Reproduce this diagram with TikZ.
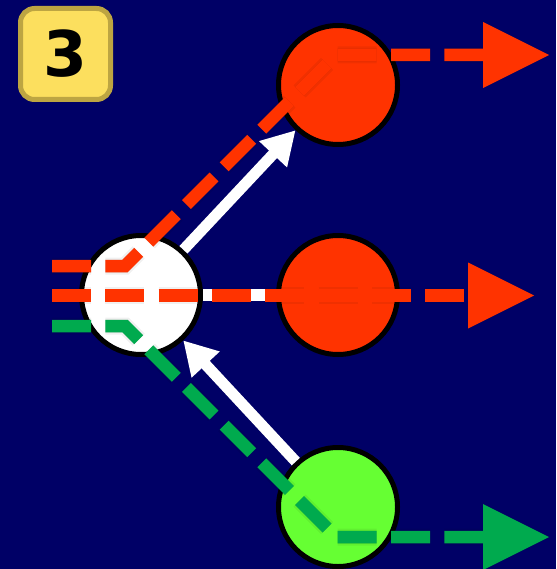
\documentclass[tikz,border=0pt]{standalone}
\usepackage{fontspec}
\newfontfamily\badgefont{DejaVu Sans}
\usetikzlibrary{arrows.meta}
\definecolor{bg}{HTML}{000066}
\definecolor{orangec}{HTML}{FF3300}
\definecolor{greenball}{HTML}{66FF33}
\definecolor{greendash}{HTML}{00AA4E}
\definecolor{badgefill}{HTML}{FCDF5E}
\definecolor{badgeedge}{HTML}{BDA542}
\tikzset{
  ball/.style={circle, draw=black, line width=5pt, minimum size=119pt, inner sep=0pt},
  badge/.style={draw=badgeedge, fill=badgefill, line width=5pt, rounded corners=14pt,
    minimum width=90pt, minimum height=91pt, inner sep=0pt,
    font=\badgefont\bfseries\fontsize{63}{63}\selectfont},
  whitearrow/.style={draw=white, line width=11pt, -{Triangle[length=33pt,width=36pt]}},
  whiteline/.style={draw=white, line width=12pt},
  dashline/.style={line width=12.5pt, dash pattern=on 39pt off 14.3pt, line join=miter},
  shadowA/.style={draw=black, opacity=0.10, line width=13pt, dash pattern=on 39pt off 14.3pt, shift={(2pt,-4pt)}},
  shadowB/.style={draw=black, opacity=0.06, line width=17pt, dash pattern=on 39pt off 14.3pt, shift={(2pt,-5pt)}},
  tshadow/.style={fill=black, opacity=0.15, shift={(2pt,-4pt)}},
}
\begin{document}
\begin{tikzpicture}[x=1pt,y=-1pt]
\fill[bg] (0,0) rectangle (556,569);
\useasboundingbox (0,0) rectangle (556,569);

% badge
\node[badge] (badge) at (65.5,54) {3};

% coordinates
\coordinate (ta) at (52,266);
\coordinate (tb) at (125,266);
\coordinate (tc) at (336,55);
\coordinate (td) at (483,55);
\coordinate (ma) at (52,295.5);
\coordinate (md) at (468,295.5);
\coordinate (ga) at (52,326);
\coordinate (gb) at (125,326);
\coordinate (gc) at (336,537);
\coordinate (gd) at (483,537);

% node positions
\path (141,295) coordinate (wc) (338,85) coordinate (tcen) (338,295) coordinate (mcen) (338,507) coordinate (gcen);

% circles
\node[ball, fill=white] (w) at (wc) {};
\node[ball, fill=orangec] (top) at (tcen) {};
\node[ball, fill=orangec] (mid) at (mcen) {};
\node[ball, fill=greenball] (grn) at (gcen) {};

% white connectors
\draw[whiteline] (w.east) -- (mid.west);
\draw[whitearrow] (w) -- (top);
\draw[whitearrow] (grn) -- (w);

% shadows
\foreach \s in {shadowB,shadowA}{
  \draw[\s] (ta) -- (tb) -- (tc) -- (td);
  \draw[\s] (ma) -- (md);
  \draw[\s] (ga) -- (gb) -- (gc) -- (gd);
}
\fill[tshadow] (td) -- ++(0,-33) -- ++(66,33) -- ++(-66,33) -- cycle;
\fill[tshadow] (md) -- ++(0,-33) -- ++(66,33) -- ++(-66,33) -- cycle;
\fill[tshadow] (gd) -- ++(0,-33) -- ++(66,33) -- ++(-66,33) -- cycle;

% dashed lines
\draw[dashline, draw=orangec] (ta) -- (tb) -- (tc) -- (td);
\draw[dashline, draw=orangec] (ma) -- (md);
\draw[dashline, draw=greendash] (ga) -- (gb) -- (gc) -- (gd);

% arrow triangles
\fill[orangec] (td) -- ++(0,-33) -- ++(66,33) -- ++(-66,33) -- cycle;
\fill[orangec] (md) -- ++(0,-33) -- ++(66,33) -- ++(-66,33) -- cycle;
\fill[greendash] (gd) -- ++(0,-33) -- ++(66,33) -- ++(-66,33) -- cycle;
\end{tikzpicture}
\end{document}
